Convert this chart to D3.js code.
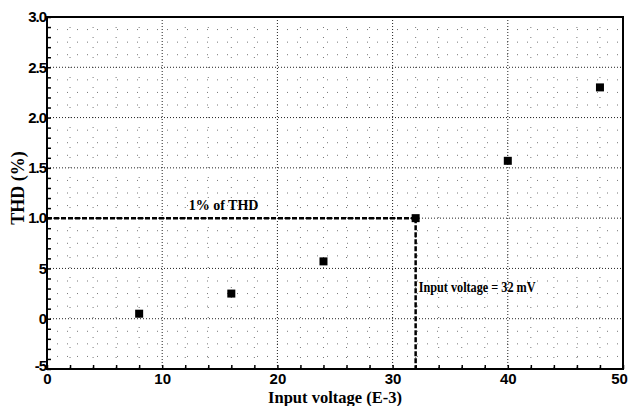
<!DOCTYPE html>
<html lang="en">
<head>
  <meta charset="UTF-8">
  <title>THD vs Input voltage</title>
  <style>
    body { margin: 0; background: #fff; }
    svg { display: block; font-family: "Liberation Serif", "DejaVu Serif", serif; font-weight: bold; }
    .tick text { font-size: 15px; font-weight: bold; fill: #000; }
    .major { stroke: #222; stroke-width: 1; stroke-dasharray: 1,2; }
    .minor { stroke: #777; stroke-width: 1; stroke-dasharray: 1,9; }
    .marker { stroke: #000; stroke-width: 2.5; stroke-dasharray: 5,2; fill: none; }
  </style>
</head>
<body>
  <svg id="chart" width="630" height="406"></svg>
  <script src="https://cdn.jsdelivr.net/npm/d3@7"></script>
  <script>
    // data
    const inputVoltage = [8, 16, 24, 32, 40, 48];
    const thd = [0.05, 0.25, 0.57, 1.0, 1.57, 2.3];
    const xTicks = [0, 10, 20, 30, 40, 50];
    const yTicks = [-0.5, 0, 0.5, 1.0, 1.5, 2.0, 2.5, 3.0];
    const yTickLabels = ["-5", "0", "5", "1.0", "1.5", "2.0", "2.5", "3.0"];
    const thdLimit = 1.0;
    const limitVoltage = 32;

    const margin = { top: 17, right: 7, bottom: 37, left: 47 };
    const width = 630 - margin.left - margin.right;
    const height = 406 - margin.top - margin.bottom;

    const svg = d3.select("#chart");
    const g = svg.append("g").attr("transform", `translate(${margin.left},${margin.top})`);

    const x = d3.scaleLinear().domain([0, 50]).range([0, width]);
    const y = d3.scaleLinear().domain([-0.5, 3.0]).range([height, 0]);

    // minor grid (faint dots)
    g.append("g").selectAll("line")
      .data(d3.range(2, 50, 2).filter(v => v % 10 !== 0))
      .join("line").attr("class", "minor")
      .attr("x1", d => x(d)).attr("x2", d => x(d))
      .attr("y1", 0).attr("y2", height);
    g.append("g").selectAll("line")
      .data(d3.range(-0.375, 3.0, 0.125).filter(v => Math.abs(v * 2 - Math.round(v * 2)) > 1e-6))
      .join("line").attr("class", "minor")
      .attr("x1", 0).attr("x2", width)
      .attr("y1", d => y(d)).attr("y2", d => y(d));

    // major grid
    g.append("g").selectAll("line")
      .data(xTicks.slice(1, -1))
      .join("line").attr("class", "major")
      .attr("x1", d => x(d)).attr("x2", d => x(d))
      .attr("y1", 0).attr("y2", height);
    g.append("g").selectAll("line")
      .data(yTicks.slice(1, -1))
      .join("line").attr("class", "major")
      .attr("x1", 0).attr("x2", width)
      .attr("y1", d => y(d)).attr("y2", d => y(d));

    // 1% THD marker lines
    g.append("line").attr("class", "marker")
      .attr("x1", 0).attr("x2", x(limitVoltage))
      .attr("y1", y(thdLimit)).attr("y2", y(thdLimit));
    g.append("line").attr("class", "marker")
      .attr("x1", x(limitVoltage)).attr("x2", x(limitVoltage))
      .attr("y1", y(thdLimit)).attr("y2", height);

    // frame
    g.append("rect").attr("width", width).attr("height", height)
      .attr("fill", "none").attr("stroke", "#000").attr("stroke-width", 2);

    // axes
    const xAxis = g.append("g").attr("transform", `translate(0,${height})`)
      .call(d3.axisBottom(x).tickValues(d3.range(0, 51, 2)).tickSize(-4)
        .tickFormat(d => xTicks.includes(d) ? d : ""));
    xAxis.select(".domain").remove();
    xAxis.selectAll(".tick line").attr("stroke", "#000").attr("stroke-width", 1.5);
    xAxis.selectAll(".tick text").attr("y", 4).attr("dy", "0.71em")
      .attr("x", d => d === 50 ? -4 : 0);

    const yAxis = g.append("g")
      .call(d3.axisLeft(y).tickValues(d3.range(-5, 31, 1).map(v => v / 10)).tickSize(-4)
        .tickFormat(d => {
          const i = yTicks.findIndex(t => Math.abs(t - d) < 1e-6);
          return i >= 0 ? yTickLabels[i] : "";
        }));
    yAxis.select(".domain").remove();
    yAxis.selectAll(".tick line").attr("stroke", "#000").attr("stroke-width", 1.5);
    yAxis.selectAll(".tick text").attr("x", -1).style("letter-spacing", "-1px")
      .attr("dy", d => d === -0.5 ? "0.1em" : "0.32em");

    // points
    g.append("g").selectAll("rect")
      .data(inputVoltage.map((v, i) => [v, thd[i]]))
      .join("rect")
      .attr("x", d => x(d[0]) - 4).attr("y", d => y(d[1]) - 4)
      .attr("width", 8).attr("height", 8).attr("fill", "#000");

    // annotations
    g.append("text").attr("x", x(12.3)).attr("y", y(thdLimit) - 8)
      .attr("font-size", 14).text("1% of THD");
    g.append("text").attr("x", x(limitVoltage) + 3).attr("y", y(0.27))
      .attr("font-size", 14).attr("textLength", 117).attr("lengthAdjust", "spacingAndGlyphs")
      .text("Input voltage = 32 mV");

    // axis titles
    svg.append("text").attr("x", margin.left + width / 2).attr("y", 403)
      .attr("text-anchor", "middle").attr("font-size", 16.5).text("Input voltage (E-3)");
    svg.append("text")
      .attr("transform", `translate(24,188) rotate(-90)`)
      .attr("text-anchor", "middle").attr("font-size", 18).text("THD (%)");
  </script>
</body>
</html>
